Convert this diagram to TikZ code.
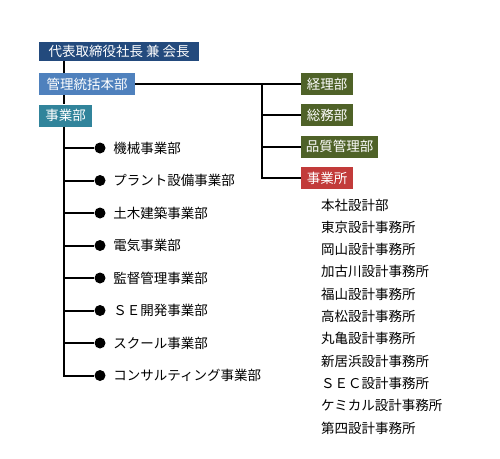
\documentclass[tikz,border=0pt]{standalone}
\usepackage{fontspec}
\usepackage{xcolor}
\usepackage{tikz}
\usetikzlibrary{positioning}
\newfontfamily\jpfont{Noto Sans CJK JP}
\definecolor{navy}{HTML}{234A7D}
\definecolor{sky}{HTML}{4F81BD}
\definecolor{teal}{HTML}{31849B}
\definecolor{olive}{HTML}{4F6228}
\definecolor{brick}{HTML}{C23B3A}
\tikzset{
  box/.style={anchor=west,text=white,font=\jpfont\fontsize{13.5}{14}\selectfont,inner sep=0pt,minimum height=22pt,align=center},
  link/.style={draw=black,line width=2pt},
  dot/.style={circle,fill=black,inner sep=0pt,minimum size=11pt},
  item/.style={anchor=west,font=\jpfont\fontsize{13.5}{14}\selectfont,inner sep=0pt}
}

\begin{document}
\begin{tikzpicture}[x=1pt,y=-1pt]
  \useasboundingbox (0,0) rectangle (500,458);
  \coordinate (spine) at (64,0); \coordinate (br) at (262,0);
  \node[box,fill=navy,minimum width=160pt,minimum height=19pt] (ceo) at (39,51) {代表取締役社長 兼 会長};
  \node[box,fill=sky,minimum width=96pt] (honbu) at (39,84) {管理統括本部};
  \node[box,fill=teal,minimum width=53pt] (jigyo) at (39,115.5) {事業部};
  \node[box,fill=olive,minimum width=52pt] (keiri) at (301,84) {経理部};
  \node[box,fill=olive,minimum width=52pt] (somu) at (301,115) {総務部};
  \node[box,fill=olive,minimum width=77pt] (hinshitsu) at (301,146.5) {品質管理部};
  \node[box,fill=brick,minimum width=52pt] (jigyosho) at (301,178) {事業所};
  \draw[link] (ceo.south -| spine) -- (honbu.north -| spine);
  \draw[link] (honbu.south -| spine) -- (jigyo.north -| spine);
  \draw[link] (honbu.east) -- (keiri.west);
  \draw[link] (honbu.east -| br) |- (jigyosho.west);
  \draw[link] (somu.west -| br) -- (somu.west);
  \draw[link] (hinshitsu.west -| br) -- (hinshitsu.west);
  % divisions
  \foreach \name [count=\i] in {機械事業部,プラント設備事業部,土木建築事業部,電気事業部,監督管理事業部,ＳＥ開発事業部,スクール事業部,コンサルティング事業部}{
    \node[dot] (d\i) at (100,{115.5+32.5*\i}) {};
    \node[item,right=7.5pt of d\i] (u\i) {\name};
    \draw[link] (d\i -| spine) -- (d\i);
  }
  \draw[link] (jigyo.south -| spine) |- (d8);
  % offices
  \foreach \name [count=\i] in {本社設計部,東京設計事務所,岡山設計事務所,加古川設計事務所,福山設計事務所,高松設計事務所,丸亀設計事務所,新居浜設計事務所,ＳＥＣ設計事務所,ケミカル設計事務所,第四設計事務所}{
    \node[item] (o\i) at (321,{182.7+22.3*\i}) {\name};
  }
\end{tikzpicture}
\end{document}
